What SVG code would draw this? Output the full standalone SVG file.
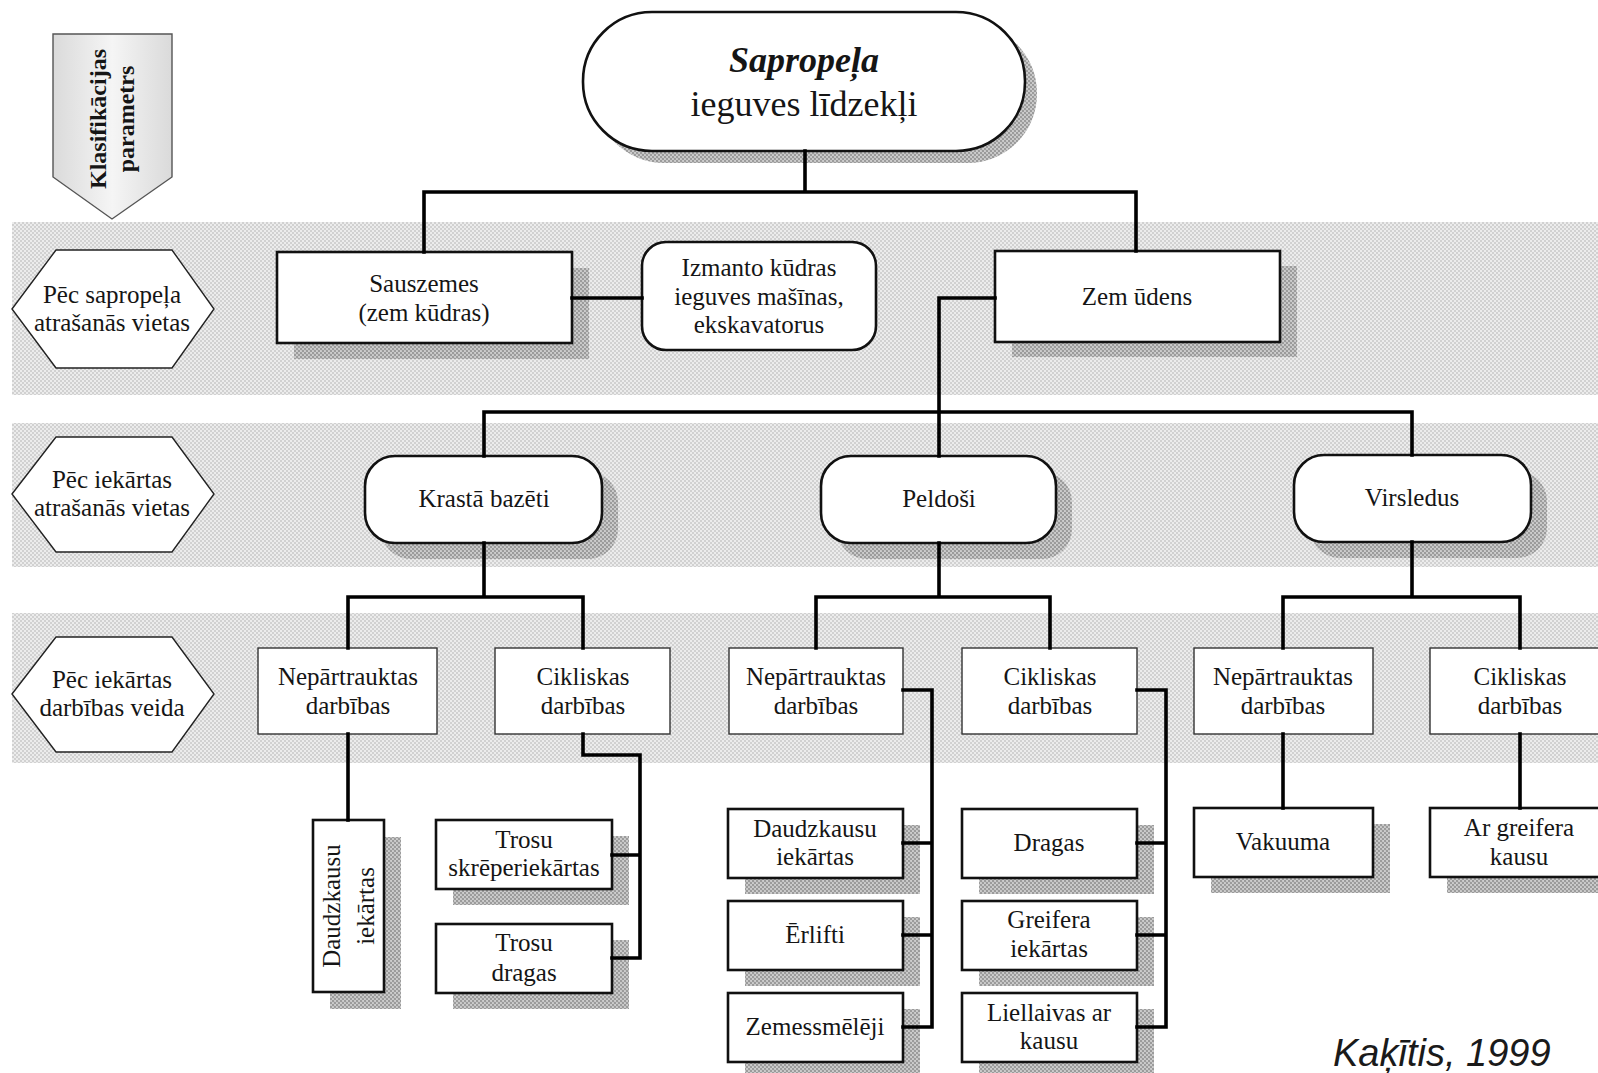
<svg xmlns="http://www.w3.org/2000/svg" width="1598" height="1073" viewBox="0 0 1598 1073">
<style>
text{font-family:"Liberation Serif","Times New Roman",serif;fill:#151515;font-size:25px;text-anchor:middle}
.box{fill:#fff;stroke:#111;stroke-width:2.6}
.thin{fill:#fff;stroke:#333;stroke-width:1.4}
.hex{fill:#fff;stroke:#222;stroke-width:1.4}
.shd{fill:url(#shd)}
.band{fill:url(#band)}
.con{fill:none;stroke:#000;stroke-width:3.6;stroke-linejoin:miter;stroke-linecap:square}
.title{font-size:36px}
.cite{font-family:"Liberation Sans",Arial,sans-serif;font-style:italic;font-size:38px;text-anchor:start;fill:#1a1a1a}
.kl{font-weight:bold;font-size:24px}
</style>
<defs>
<pattern id="band" width="4" height="4" patternUnits="userSpaceOnUse">
<rect width="4" height="4" fill="#ececec"/>
<circle cx="1" cy="1" r="1" fill="#c8c8c8"/>
<circle cx="3" cy="3" r="1" fill="#c8c8c8"/>
</pattern>
<pattern id="shd" width="4" height="4" patternUnits="userSpaceOnUse">
<rect width="4" height="4" fill="#cdcdcd"/>
<circle cx="1" cy="1" r="1.2" fill="#9a9a9a"/>
<circle cx="3" cy="3" r="1.2" fill="#9a9a9a"/>
</pattern>
<linearGradient id="arrowg" x1="0" y1="0" x2="1" y2="0">
<stop offset="0" stop-color="#dadada"/>
<stop offset="0.5" stop-color="#f5f5f5"/>
<stop offset="1" stop-color="#dadada"/>
</linearGradient>
</defs>
<rect width="1598" height="1073" fill="#fff"/>
<g id="bands">
<rect class="band" x="12" y="222" width="1586" height="173"/>
<rect class="band" x="12" y="423" width="1586" height="144"/>
<rect class="band" x="12" y="613" width="1586" height="150"/>
</g>
<g id="legend">
<g id="param-arrow">
<polygon points="53,34 172,34 172,177 112,219 53,177" fill="url(#arrowg)" stroke="#555" stroke-width="1.4"/>
<text class="kl" transform="translate(106,119) rotate(-90)">Klasifikācijas</text>
<text class="kl" transform="translate(134,119) rotate(-90)">parametrs</text>
</g>
<g id="hex-1">
<polygon class="hex" points="12,309 56,250 172,250 214,309 172,368 56,368"/>
<text x="112" y="303">Pēc sapropeļa</text>
<text x="112" y="331">atrašanās vietas</text>
</g>
<g id="hex-2">
<polygon class="hex" points="12,494 56,437 172,437 214,494 172,552 56,552"/>
<text x="112" y="488">Pēc iekārtas</text>
<text x="112" y="516">atrašanās vietas</text>
</g>
<g id="hex-3">
<polygon class="hex" points="12,694 56,637 172,637 214,694 172,752 56,752"/>
<text x="112" y="688">Pēc iekārtas</text>
<text x="112" y="716">darbības veida</text>
</g>
</g>
<g id="root">
<rect class="shd" x="595" y="24" width="442" height="139" rx="69"/>
<rect class="box" x="583" y="12" width="442" height="139" rx="69"/>
<text class="title" x="804" y="72" font-weight="bold" font-style="italic">Sapropeļa</text>
<text class="title" x="804" y="116">ieguves līdzekļi</text>
</g>
<g id="sauszemes">
<rect class="shd" x="294" y="268" width="295" height="91"/>
<rect class="box" x="277" y="252" width="295" height="91"/>
<text x="424" y="292">Sauszemes</text>
<text x="424" y="321">(zem kūdras)</text>
</g>
<g id="izmanto">
<rect class="box" x="642" y="242" width="234" height="108" rx="24"/>
<text x="759" y="276">Izmanto kūdras</text>
<text x="759" y="305">ieguves mašīnas,</text>
<text x="759" y="333">ekskavatorus</text>
</g>
<g id="zem-udens">
<rect class="shd" x="1012" y="266" width="285" height="91"/>
<rect class="box" x="995" y="251" width="285" height="91"/>
<text x="1137" y="305">Zem ūdens</text>
</g>
<g id="krasta">
<rect class="shd" x="381" y="472" width="237" height="87" rx="30"/>
<rect class="box" x="365" y="456" width="237" height="87" rx="30"/>
<text x="484" y="507">Krastā bazēti</text>
</g>
<g id="peldosi">
<rect class="shd" x="837" y="472" width="235" height="87" rx="30"/>
<rect class="box" x="821" y="456" width="235" height="87" rx="30"/>
<text x="939" y="507">Peldoši</text>
</g>
<g id="virsledus">
<rect class="shd" x="1310" y="471" width="237" height="87" rx="30"/>
<rect class="box" x="1294" y="455" width="237" height="87" rx="30"/>
<text x="1412" y="506">Virsledus</text>
</g>
<g id="nep-1">
<rect class="thin" x="258" y="648" width="179" height="86"/>
<text x="348" y="685">Nepārtrauktas</text>
<text x="348" y="714">darbības</text>
</g>
<g id="cikl-1">
<rect class="thin" x="495" y="648" width="175" height="86"/>
<text x="583" y="685">Cikliskas</text>
<text x="583" y="714">darbības</text>
</g>
<g id="nep-2">
<rect class="thin" x="729" y="648" width="174" height="86"/>
<text x="816" y="685">Nepārtrauktas</text>
<text x="816" y="714">darbības</text>
</g>
<g id="cikl-2">
<rect class="thin" x="962" y="648" width="175" height="86"/>
<text x="1050" y="685">Cikliskas</text>
<text x="1050" y="714">darbības</text>
</g>
<g id="nep-3">
<rect class="thin" x="1194" y="648" width="179" height="86"/>
<text x="1283" y="685">Nepārtrauktas</text>
<text x="1283" y="714">darbības</text>
</g>
<g id="cikl-3">
<rect class="thin" x="1430" y="648" width="180" height="86"/>
<text x="1520" y="685">Cikliskas</text>
<text x="1520" y="714">darbības</text>
</g>
<g id="daudzkausu-1">
<rect class="shd" x="330" y="837" width="71" height="172"/>
<rect class="box" x="313" y="820" width="71" height="172"/>
<text transform="translate(340,906) rotate(-90)">Daudzkausu</text>
<text transform="translate(374,906) rotate(-90)">iekārtas</text>
</g>
<g id="trosu-skreper">
<rect class="shd" x="453" y="836" width="176" height="69"/>
<rect class="box" x="436" y="820" width="176" height="69"/>
<text x="524" y="848">Trosu</text>
<text x="524" y="876">skrēperiekārtas</text>
</g>
<g id="trosu-dragas">
<rect class="shd" x="453" y="940" width="176" height="69"/>
<rect class="box" x="436" y="924" width="176" height="69"/>
<text x="524" y="951">Trosu</text>
<text x="524" y="981">dragas</text>
</g>
<g id="daudzkausu-2">
<rect class="shd" x="745" y="825" width="175" height="69"/>
<rect class="box" x="728" y="809" width="175" height="69"/>
<text x="815" y="837">Daudzkausu</text>
<text x="815" y="865">iekārtas</text>
</g>
<g id="erlifti">
<rect class="shd" x="745" y="917" width="175" height="69"/>
<rect class="box" x="728" y="901" width="175" height="69"/>
<text x="815" y="943">Ērlifti</text>
</g>
<g id="zemessmeleji">
<rect class="shd" x="745" y="1009" width="175" height="69"/>
<rect class="box" x="728" y="993" width="175" height="69"/>
<text x="815" y="1035">Zemessmēlēji</text>
</g>
<g id="dragas">
<rect class="shd" x="979" y="825" width="175" height="69"/>
<rect class="box" x="962" y="809" width="175" height="69"/>
<text x="1049" y="851">Dragas</text>
</g>
<g id="greifera">
<rect class="shd" x="979" y="917" width="175" height="69"/>
<rect class="box" x="962" y="901" width="175" height="69"/>
<text x="1049" y="928">Greifera</text>
<text x="1049" y="957">iekārtas</text>
</g>
<g id="liellaivas">
<rect class="shd" x="979" y="1009" width="175" height="69"/>
<rect class="box" x="962" y="993" width="175" height="69"/>
<text x="1049" y="1021">Liellaivas ar</text>
<text x="1049" y="1049">kausu</text>
</g>
<g id="vakuuma">
<rect class="shd" x="1211" y="824" width="179" height="69"/>
<rect class="box" x="1194" y="808" width="179" height="69"/>
<text x="1283" y="850">Vakuuma</text>
</g>
<g id="ar-greifera">
<rect class="shd" x="1447" y="824" width="180" height="69"/>
<rect class="box" x="1430" y="808" width="180" height="69"/>
<text x="1519" y="836">Ar greifera</text>
<text x="1519" y="865">kausu</text>
</g>
<g id="connectors">
<path class="con" d="M805,151 V192 M424,252 V192 H1136 V251"/>
<path class="con" d="M572,298 H642"/>
<path class="con" d="M995,298 H939 V456"/>
<path class="con" d="M484,456 V412 H1412 V455"/>
<path class="con" d="M484,543 V597 M348,648 V597 H583 V648"/>
<path class="con" d="M939,543 V597 M816,648 V597 H1050 V648"/>
<path class="con" d="M1412,542 V597 M1283,648 V597 H1520 V648"/>
<path class="con" d="M348,734 V820"/>
<path class="con" d="M583,734 V755 H640 V958 H612 M612,855 H640"/>
<path class="con" d="M903,690 H932 V1027 H903 M903,843 H932 M903,935 H932"/>
<path class="con" d="M1137,690 H1166 V1027 H1137 M1137,843 H1166 M1137,935 H1166"/>
<path class="con" d="M1283,734 V808"/>
<path class="con" d="M1520,734 V808"/>
</g>
<text class="cite" x="1333" y="1066">Kaķītis, 1999</text>
</svg>
